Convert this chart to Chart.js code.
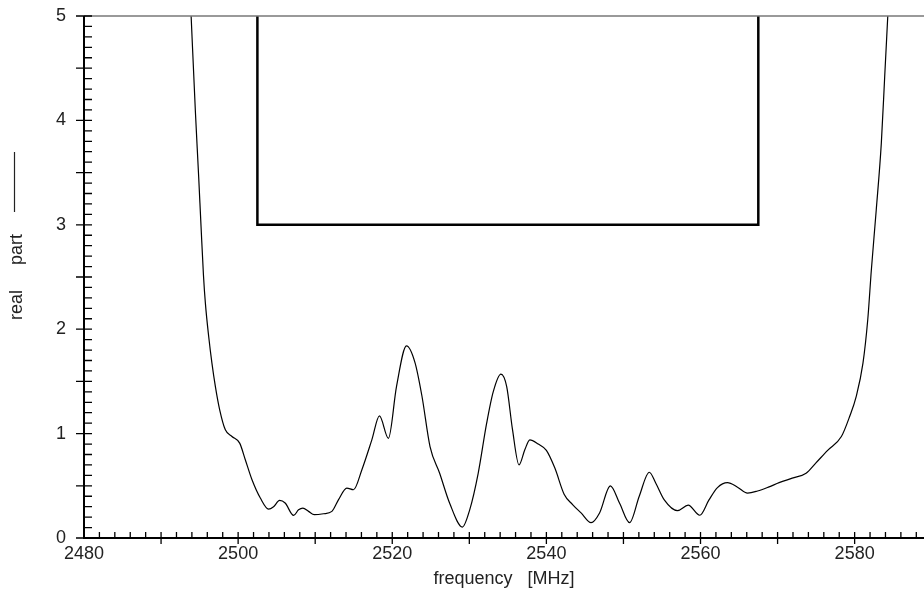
<!DOCTYPE html>
<html>
<head>
<meta charset="utf-8">
<title>real part vs frequency</title>
<script src="https://cdn.jsdelivr.net/npm/chart.js@4/dist/chart.umd.min.js"></script>
<style>
  html, body { margin: 0; padding: 0; background: #fff; }
  #wrap { width: 924px; height: 593px; position: relative; }
</style>
</head>
<body>
<div id="wrap"><canvas id="plot"></canvas></div>
<script>
// measured curve, frequency in MHz
const freq = [
  2493.9, 2494.45, 2494.88, 2495.19, 2495.5, 2495.75, 2496.18, 2496.6, 2497.05, 2497.6,
  2498.34, 2499.2, 2500.2, 2500.93, 2501.8, 2502.88, 2503.95, 2504.6, 2505.38, 2506.1,
  2507.2, 2507.84, 2508.4, 2509.14, 2509.88, 2511.08, 2512.17, 2513.03, 2514.1, 2514.97,
  2516.06, 2517.35, 2518.34, 2519.5, 2520.55, 2521.85, 2522.95, 2523.85, 2524.9, 2526.15,
  2527.45, 2529.1, 2530.05, 2531.15, 2532.25, 2533.1, 2534.1, 2534.85, 2535.6, 2536.45,
  2537.2, 2537.85, 2538.95, 2540.0, 2541.1, 2542.3, 2543.4, 2544.5, 2545.8, 2546.9,
  2548.3, 2549.5, 2550.8, 2552.05, 2553.35, 2554.2, 2555.3, 2557.0, 2558.4, 2559.9,
  2561.1, 2562.2, 2563.5, 2564.8, 2566.1, 2567.4, 2568.9, 2570.2, 2571.9, 2573.7,
  2574.95, 2576.5, 2578.28, 2579.35, 2580.2, 2581.08, 2581.7, 2582.17, 2582.8, 2583.46,
  2583.9, 2584.3
];
const realPart = [
  5.00, 4.09, 3.46, 2.98, 2.52, 2.25, 1.93, 1.675, 1.45, 1.23,
  1.036, 0.972, 0.909, 0.75, 0.558, 0.383, 0.277, 0.30, 0.36, 0.335,
  0.216, 0.27, 0.287, 0.255, 0.223, 0.232, 0.255, 0.367, 0.478, 0.462,
  0.654, 0.94, 1.17, 0.955, 1.45, 1.84, 1.68, 1.36, 0.876, 0.62,
  0.333, 0.105, 0.27, 0.62, 1.10, 1.40, 1.57, 1.45, 1.04, 0.70,
  0.845, 0.94, 0.90, 0.84, 0.67, 0.42, 0.32, 0.24, 0.147, 0.24,
  0.50, 0.333, 0.147, 0.40, 0.63, 0.525, 0.365, 0.262, 0.314, 0.218,
  0.365, 0.483, 0.53, 0.487, 0.43, 0.45, 0.49, 0.53, 0.573, 0.62,
  0.717, 0.84, 0.972, 1.164, 1.355, 1.675, 2.09, 2.57, 3.14, 3.78,
  4.42, 5.00
];

// specification mask (limit line)
const maskFreq = [2502.5, 2502.5, 2567.5, 2567.5];
const maskLevel = [5, 3, 3, 5];

const xLabels = [2480, 2500, 2520, 2540, 2560, 2580];
const yLabels = [0, 1, 2, 3, 4, 5];

const FONT = '"Liberation Sans", Arial, sans-serif';
const INK = '#222';

const axisDecor = {
  id: 'axisDecor',
  afterDraw(chart) {
    const { ctx, chartArea: a, scales: { x, y } } = chart;
    ctx.save();
    ctx.lineCap = 'butt';

    // frame top
    ctx.strokeStyle = '#777';
    ctx.lineWidth = 1.5;
    ctx.beginPath();
    ctx.moveTo(a.left, a.top);
    ctx.lineTo(a.right, a.top);
    ctx.stroke();

    ctx.strokeStyle = '#000';
    ctx.lineWidth = 1.3;
    ctx.beginPath();
    // y ticks every 0.1, crossing at every 0.5
    for (let i = 0; i <= 50; i++) {
      const py = y.getPixelForValue(i / 10);
      ctx.moveTo(i % 5 === 0 ? a.left - 8 : a.left, py);
      ctx.lineTo(a.left + 8, py);
    }
    // x ticks every 2 MHz, crossing at every 10 MHz
    for (let f = 2482; f <= x.max; f += 2) {
      const px = x.getPixelForValue(f);
      ctx.moveTo(px, a.bottom - 6);
      ctx.lineTo(px, f % 10 === 0 ? a.bottom + 6 : a.bottom);
    }
    ctx.stroke();

    // axis lines
    ctx.lineWidth = 2;
    ctx.beginPath();
    ctx.moveTo(a.left, a.top);
    ctx.lineTo(a.left, a.bottom);
    ctx.lineTo(a.right, a.bottom);
    ctx.stroke();

    // line-style sample next to the y title
    const mid = (a.top + a.bottom) / 2;
    ctx.strokeStyle = INK;
    ctx.lineWidth = 1.2;
    ctx.beginPath();
    ctx.moveTo(14.5, mid - 125);
    ctx.lineTo(14.5, mid - 65);
    ctx.stroke();
    ctx.restore();
  }
};

new Chart(document.getElementById('plot'), {
  type: 'line',
  data: {
    datasets: [
      {
        label: 'real part',
        data: freq.map((f, i) => ({ x: f, y: realPart[i] })),
        borderColor: '#000',
        borderWidth: 1.2,
        pointRadius: 0,
        cubicInterpolationMode: 'monotone',
        fill: false
      },
      {
        label: 'mask',
        data: maskFreq.map((f, i) => ({ x: f, y: maskLevel[i] })),
        borderColor: '#000',
        borderWidth: 2.5,
        pointRadius: 0,
        tension: 0,
        fill: false
      }
    ]
  },
  options: {
    responsive: true,
    maintainAspectRatio: false,
    animation: false,
    events: [],
    layout: { padding: { top: 16, right: 0, bottom: 0, left: 0 } },
    plugins: { legend: { display: false }, tooltip: { enabled: false } },
    scales: {
      x: {
        type: 'linear',
        min: 2480,
        max: 2589,
        grid: { display: false, drawTicks: false },
        border: { display: false },
        afterBuildTicks: s => { s.ticks = xLabels.map(v => ({ value: v })); },
        afterFit: s => { s.height = 55; s.paddingLeft = 0; s.paddingRight = 0; },
        ticks: { color: INK, padding: 5, maxRotation: 0, font: { family: FONT, size: 18 },
                 callback: v => String(v) },
        title: {
          display: true,
          text: 'frequency   [MHz]',
          color: INK,
          padding: { top: 0, bottom: 3 },
          font: { family: FONT, size: 18 }
        }
      },
      y: {
        min: 0,
        max: 5,
        grid: { display: false, drawTicks: false },
        border: { display: false },
        afterBuildTicks: s => { s.ticks = yLabels.map(v => ({ value: v })); },
        afterFit: s => { s.width = 84; s.paddingTop = 0; s.paddingBottom = 0; },
        ticks: { color: INK, padding: 18, font: { family: FONT, size: 18 },
                 callback: v => String(v) },
        title: {
          display: true,
          text: 'real     part',
          color: INK,
          padding: { top: 6, bottom: 0 },
          font: { family: FONT, size: 18 }
        }
      }
    }
  },
  plugins: [axisDecor]
});
</script>
</body>
</html>
